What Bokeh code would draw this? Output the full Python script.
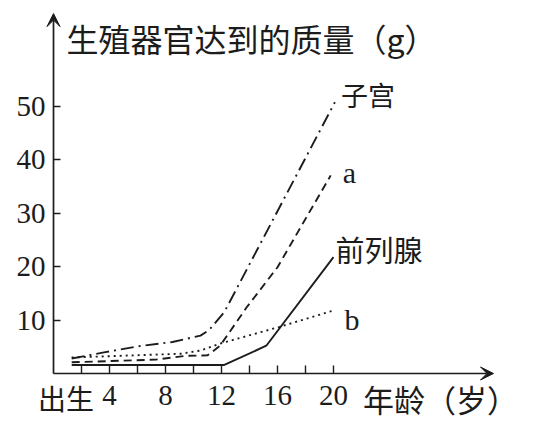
from bokeh.plotting import figure
from bokeh.models import Range1d, FixedTicker, Arrow, VeeHead
from bokeh.core.properties import value
from bokeh.embed import file_html
from bokeh.resources import INLINE

# ---- data ----
uterus_age = [1.3, 3.7, 6.1, 8.5, 10.5, 11.1, 12.2, 20.1]
uterus_mass = [2.8, 4.0, 5.1, 5.9, 7.1, 8.1, 11.5, 50.8]

a_age = [1.3, 7.3, 9.4, 11.0, 11.9, 13.8, 16.0, 19.8]
a_mass = [2.1, 2.6, 3.3, 3.4, 5.2, 12.4, 19.9, 37.1]

prostate_age = [1.3, 12.2, 15.2, 20.0]
prostate_mass = [1.6, 1.6, 5.2, 21.8]

b_age = [1.3, 9.1, 10.5, 11.9, 16.1, 20.0]
b_mass = [3.0, 3.7, 4.3, 5.6, 8.7, 11.8]

x_ticks = [2, 4, 6, 8, 10, 12, 14, 16, 18, 20]
x_tick_labels = ["", "4", "", "8", "", "12", "", "16", "", "20"]
y_ticks = [10, 20, 30, 40, 50]
y_tick_labels = ["10", "20", "30", "40", "50"]

birth_label = "出生"
birth_age = 0.9
x_title = "年龄（岁）"
y_title = "生殖器官达到的质量（g）"
series_names = ["子宫", "a", "前列腺", "b"]

INK = "#1c1c1c"
CJK = "Noto Sans CJK SC"
SERIF = "Liberation Serif"

# axis ends (arrow tips)
X_END = 31.43
Y_END = 67.4

p = figure(width=543, height=437, output_backend="svg", toolbar_location=None,
           x_range=Range1d(-3.786, 35.0), y_range=Range1d(-11.985, 69.85),
           min_border_left=0, min_border_right=0, min_border_top=0,
           min_border_bottom=0)
p.outline_line_color = None
p.grid.visible = False
p.background_fill_color = "white"
p.border_fill_color = "white"

for ax in (p.xaxis[0], p.yaxis[0]):
    ax.fixed_location = 0
    ax.axis_line_color = None
    ax.major_tick_line_color = INK
    ax.major_tick_line_width = 1.4
    ax.major_tick_out = 0
    ax.minor_tick_line_color = None
    ax.major_label_text_font = SERIF
    ax.major_label_text_font_size = "29px"
    ax.major_label_text_color = INK

p.xaxis.ticker = FixedTicker(ticks=x_ticks)
p.xaxis.major_label_overrides = {t: l for t, l in zip(x_ticks, x_tick_labels)}
p.xaxis.major_tick_in = 8
p.xaxis.major_label_standoff = 13

p.yaxis.ticker = FixedTicker(ticks=y_ticks)
p.yaxis.major_label_overrides = {t: l for t, l in zip(y_ticks, y_tick_labels)}
p.yaxis.major_tick_in = 7
p.yaxis.major_label_standoff = 8

# axis lines with arrows
p.add_layout(Arrow(end=VeeHead(size=13, fill_color=INK, line_color=INK),
                   x_start=0, y_start=0, x_end=0, y_end=Y_END,
                   line_color=INK, line_width=1.7))
p.add_layout(Arrow(end=VeeHead(size=13, fill_color=INK, line_color=INK),
                   x_start=0, y_start=0, x_end=X_END, y_end=0,
                   line_color=INK, line_width=1.7))

# series
p.line(uterus_age, uterus_mass, line_color=INK, line_width=1.9, line_dash="13 5 2 5")
p.line(a_age, a_mass, line_color=INK, line_width=1.9, line_dash="8 5")
p.line(prostate_age, prostate_mass, line_color=INK, line_width=1.9)
p.line(b_age, b_mass, line_color=INK, line_width=1.9, line_dash="2 4")

# series labels at line ends
p.text(x=[uterus_age[-1]], y=[uterus_mass[-1]], text=[series_names[0]],
       x_offset=6, y_offset=-8, text_font=value(CJK), text_font_size="27px",
       text_color=INK, text_baseline="middle", text_align="left")
p.text(x=[a_age[-1]], y=[a_mass[-1]], text=[series_names[1]],
       x_offset=12, y_offset=-3, text_font=value(SERIF), text_font_size="30px",
       text_color=INK, text_baseline="alphabetic", text_align="left")
p.text(x=[prostate_age[-1]], y=[prostate_mass[-1]], text=[series_names[2]],
       x_offset=2, y_offset=-8, text_font=value(CJK), text_font_size="29px",
       text_color=INK, text_baseline="middle", text_align="left")
p.text(x=[b_age[-1]], y=[b_mass[-1]], text=[series_names[3]],
       x_offset=11, y_offset=9, text_font=value(SERIF), text_font_size="30px",
       text_color=INK, text_baseline="alphabetic", text_align="left")

# axis titles and the birth label
p.text(x=[0.93], y=[62.9], text=[y_title], text_font=value(CJK),
       text_font_size="32px", text_color=INK,
       text_baseline="middle", text_align="left")
p.text(x=[22.1], y=[-4.6], text=[x_title], text_font=value(CJK),
       text_font_size="31px", text_color=INK,
       text_baseline="middle", text_align="left")
p.text(x=[birth_age], y=[-4.6], text=[birth_label], text_font=value(CJK),
       text_font_size="28px", text_color=INK,
       text_baseline="middle", text_align="center")

open("out.html", "w").write(file_html(p, INLINE))
